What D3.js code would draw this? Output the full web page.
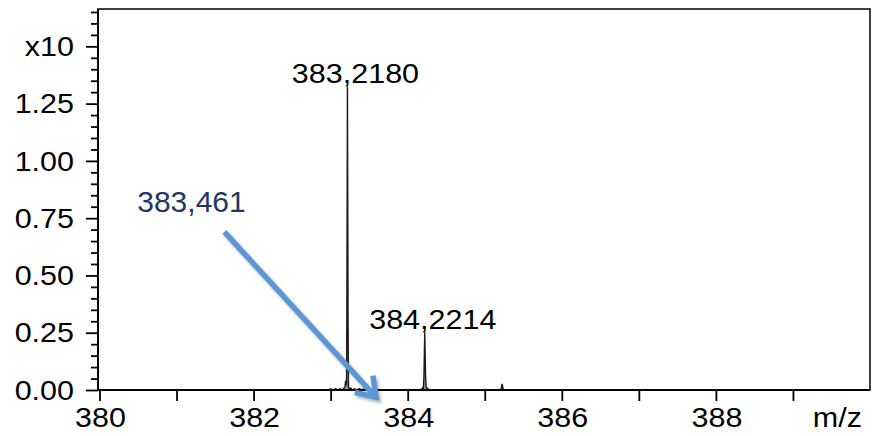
<!DOCTYPE html>
<html>
<head>
<meta charset="utf-8">
<script src="https://cdn.jsdelivr.net/npm/d3@7"></script>
<style>
  html, body { margin: 0; padding: 0; background: #fff; }
  svg { display: block; }
  text { font-family: "Liberation Sans", Arial, sans-serif; }
</style>
</head>
<body>
<svg id="chart" width="879" height="436"></svg>
<script>
// ---- data ----
const mzValues = [380.00, 382.95, 383.00, 383.03, 383.06, 383.10, 383.12, 383.15, 383.17, 383.185,
  383.193, 383.200, 383.206, 383.210, 383.218, 383.226, 383.232, 383.245, 383.26, 383.29, 383.31,
  383.34, 383.37, 383.40, 383.43, 383.46, 383.50, 384.15, 384.18, 384.195, 384.203, 384.211,
  384.2214, 384.232, 384.240, 384.255, 384.27, 384.30, 385.200, 385.215, 385.225, 385.238, 385.25, 390.00];
const intensities = [0.000, 0.000, 0.004, 0.000, 0.005, 0.000, 0.006, 0.000, 0.008, 0.012,
  0.036, 0.034, 0.020, 0.300, 1.325, 0.300, 0.012, 0.006, 0.008, 0.000, 0.005,
  0.000, 0.006, 0.000, 0.004, 0.000, 0.000, 0.000, 0.004, 0.010, 0.008, 0.060,
  0.252, 0.060, 0.010, 0.008, 0.003, 0.000, 0.000, 0.008, 0.027, 0.006, 0.000, 0.000];
const peakLabels = [ {mz: 383.2180, value: 1.325, text: "383,2180"},
                     {mz: 384.2214, value: 0.252, text: "384,2214"} ];
const xTickValues = [380, 381, 382, 383, 384, 385, 386, 387, 388, 389];
const xTickLabels = ["380", "", "382", "", "384", "", "386", "", "388", ""];
const xAxisTitle = "m/z";
const yMajorValues = [0, 0.25, 0.5, 0.75, 1.0, 1.25, 1.5];
const yTickLabels = ["0.00", "0.25", "0.50", "0.75", "1.00", "1.25", "x10"];
const yMinorValues = [0.05,0.10,0.15,0.20,0.30,0.35,0.40,0.45,0.55,0.60,0.65,0.70,0.80,0.85,0.90,0.95,
  1.05,1.10,1.15,1.20,1.30,1.35,1.40,1.45,1.55,1.60,1.65];
const annotationText = "383,461";
const annotationAt = {mz: 380.49, value: 0.777};
const arrowFrom = {mz: 381.62, value: 0.690};
const arrowTo = {mz: 383.59, value: -0.032};

// ---- layout ----
const svg = d3.select("#chart");
const pL = 98, pR = 870, pT = 9, pB = 390;
const x = d3.scaleLinear().domain([380, 390]).range([pL + 1.5, pR]);
const y = d3.scaleLinear().domain([0, 1.663]).range([pB, pT]);
const SX = 1.13; // horizontal stretch of chart texts
const FS = 27;

const defs = svg.append("defs");
const f = defs.append("filter").attr("id", "shadow").attr("x", "-20%").attr("y", "-20%").attr("width", "150%").attr("height", "150%");
f.append("feDropShadow").attr("dx", 2).attr("dy", 2.5).attr("stdDeviation", 1.6)
  .attr("flood-color", "#000").attr("flood-opacity", 0.3);

// spectrum
const pts = mzValues.map((m, i) => [m, intensities[i]]);
svg.append("path")
  .datum(pts)
  .attr("d", d3.area().x(d => x(d[0])).y0(y(0)).y1(d => y(d[1])))
  .attr("fill", "#9a9a9a");
svg.append("path")
  .datum(pts)
  .attr("d", d3.line().x(d => x(d[0])).y(d => y(d[1])))
  .attr("fill", "none").attr("stroke", "#1a1a1a").attr("stroke-width", 1.4);

// frame
svg.append("rect").attr("x", pL).attr("y", pT).attr("width", pR - pL).attr("height", pB - pT)
  .attr("fill", "none").attr("stroke", "#000").attr("stroke-width", 1.5);
svg.append("line").attr("x1", pL).attr("x2", pR).attr("y1", pB).attr("y2", pB)
  .attr("stroke", "#000").attr("stroke-width", 2.2);
svg.append("line").attr("x1", pL).attr("x2", pL).attr("y1", pT).attr("y2", pB)
  .attr("stroke", "#000").attr("stroke-width", 2);

// y axis ticks
const yMajor = svg.append("g").attr("transform", `translate(${pL},0)`)
  .call(d3.axisLeft(y).tickValues(yMajorValues).tickSize(12).tickFormat(""));
const yMinor = svg.append("g").attr("transform", `translate(${pL},0)`)
  .call(d3.axisLeft(y).tickValues(yMinorValues).tickSize(7).tickFormat(""));
[yMajor, yMinor].forEach(g => {
  g.select(".domain").remove();
  g.selectAll("line").attr("stroke", "#000").attr("stroke-width", 1.8);
});
svg.append("g").selectAll("text").data(yMajorValues).join("text")
  .attr("transform", d => `translate(74,${y(d)}) scale(${SX},1)`)
  .attr("text-anchor", "end").attr("dy", "0.36em")
  .attr("font-size", FS).attr("fill", "#000")
  .text((d, i) => yTickLabels[i]);

// x axis ticks
const xAx = svg.append("g").attr("transform", `translate(0,${pB})`)
  .call(d3.axisBottom(x).tickValues(xTickValues).tickSize(11).tickFormat(""));
xAx.select(".domain").remove();
xAx.selectAll("line").attr("stroke", "#000").attr("stroke-width", 1.8);
svg.append("g").selectAll("text").data(xTickValues).join("text")
  .attr("transform", d => `translate(${x(d) + 1},427) scale(${SX},1)`)
  .attr("text-anchor", "middle")
  .attr("font-size", FS).attr("fill", "#000")
  .text((d, i) => xTickLabels[i]);
svg.append("text")
  .attr("transform", `translate(862,427) scale(${SX},1)`)
  .attr("text-anchor", "end").attr("font-size", FS).attr("fill", "#000")
  .text(xAxisTitle);

// peak labels
svg.append("g").selectAll("text").data(peakLabels).join("text")
  .attr("transform", d => `translate(${x(d.mz) + 8},${y(d.value) - 3}) scale(${SX},1)`)
  .attr("text-anchor", "middle").attr("font-size", FS).attr("fill", "#000")
  .text(d => d.text);

// annotation
svg.append("text")
  .attr("x", x(annotationAt.mz)).attr("y", y(annotationAt.value))
  .attr("font-size", 30).attr("fill", "#1f3864")
  .text(annotationText);

const x1 = x(arrowFrom.mz), y1 = y(arrowFrom.value), x2 = x(arrowTo.mz), y2 = y(arrowTo.value);
const ang = Math.atan2(y2 - y1, x2 - x1);
const hl = 22, ha = 34 * Math.PI / 180;
const w1 = [x2 - hl * Math.cos(ang - ha), y2 - hl * Math.sin(ang - ha)];
const w2 = [x2 - hl * Math.cos(ang + ha), y2 - hl * Math.sin(ang + ha)];
const ag = svg.append("g").attr("filter", "url(#shadow)");
ag.append("path")
  .attr("d", `M${x1},${y1}L${x2 - 2 * Math.cos(ang)},${y2 - 2 * Math.sin(ang)}M${w1[0]},${w1[1]}L${x2},${y2}L${w2[0]},${w2[1]}`)
  .attr("fill", "none").attr("stroke", "#5d97d2").attr("stroke-width", 5.5)
  .attr("stroke-linecap", "butt").attr("stroke-linejoin", "miter");
</script>
</body>
</html>
